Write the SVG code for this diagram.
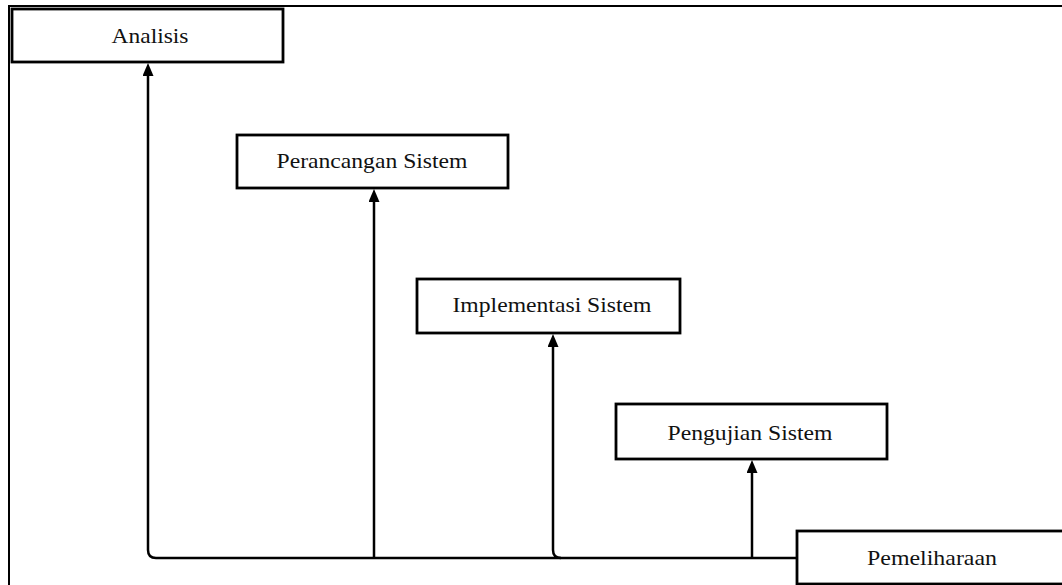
<svg xmlns="http://www.w3.org/2000/svg" width="1062" height="585" viewBox="0 0 1062 585">
  <style>
    .box { fill: #ffffff; stroke: #000000; stroke-width: 2.8; }
    .lbl { font-family: "Liberation Serif", "Times New Roman", serif; font-size: 21px; fill: #111111; text-anchor: middle; }
    .conn { fill: none; stroke: #000000; stroke-width: 2.5; }
    .frame { fill: none; stroke: #000000; stroke-width: 2; }
  </style>
  <defs>
    <marker id="arrow" viewBox="0 0 13 11" refX="6" refY="5.5" markerWidth="13" markerHeight="11" markerUnits="userSpaceOnUse" orient="auto">
      <path d="M0,0 L13,5.5 L0,11 z" fill="#000000"/>
    </marker>
  </defs>
  <rect width="1062" height="585" fill="#ffffff"/>
  <path class="frame" d="M9,585 V6 H1062"/>

  <g id="connectors">
    <path class="conn" d="M797,558 H156 Q148,558 148,550 V70" marker-end="url(#arrow)"/>
    <path class="conn" d="M374,558 V196" marker-end="url(#arrow)"/>
    <path class="conn" d="M561,558 Q553,558 553,550 V341" marker-end="url(#arrow)"/>
    <path class="conn" d="M752,558 V467" marker-end="url(#arrow)"/>
  </g>

  <g id="analisis">
    <rect class="box" x="12" y="9" width="271" height="53"/>
    <text class="lbl" x="150" y="43" textLength="77" lengthAdjust="spacingAndGlyphs">Analisis</text>
  </g>
  <g id="perancangan">
    <rect class="box" x="237" y="135" width="271" height="53"/>
    <text class="lbl" x="372" y="168" textLength="191" lengthAdjust="spacingAndGlyphs">Perancangan Sistem</text>
  </g>
  <g id="implementasi">
    <rect class="box" x="417" y="279" width="263" height="54"/>
    <text class="lbl" x="552" y="312" textLength="199" lengthAdjust="spacingAndGlyphs">Implementasi Sistem</text>
  </g>
  <g id="pengujian">
    <rect class="box" x="616" y="404" width="271" height="55"/>
    <text class="lbl" x="750" y="440" textLength="165" lengthAdjust="spacingAndGlyphs">Pengujian Sistem</text>
  </g>
  <g id="pemeliharaan">
    <rect class="box" x="797" y="531" width="280" height="53"/>
    <text class="lbl" x="932" y="565" textLength="130" lengthAdjust="spacingAndGlyphs">Pemeliharaan</text>
  </g>
</svg>
